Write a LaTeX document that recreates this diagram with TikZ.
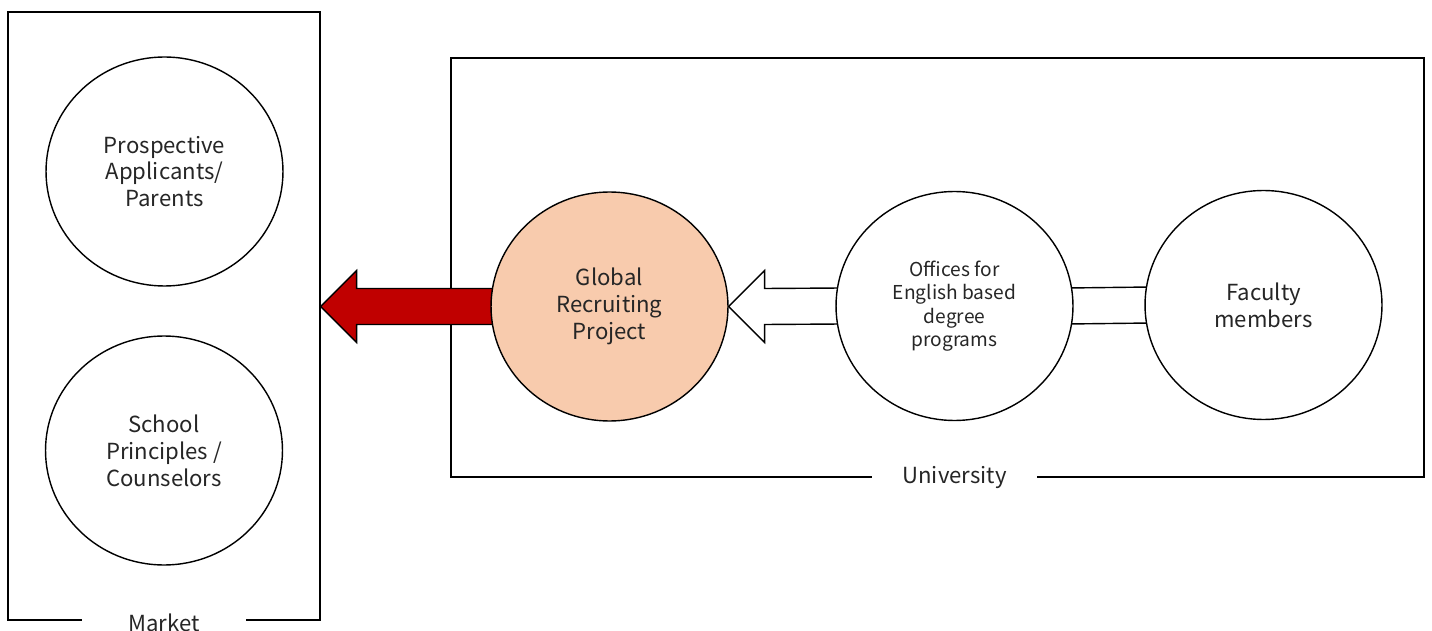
\documentclass[tikz,border=0pt]{standalone}
\usepackage{fontspec}
\setmainfont{Noto Sans CJK JP}
\usetikzlibrary{shapes.geometric,calc,backgrounds}
\definecolor{rojoFlecha}{HTML}{C00000}
\definecolor{salmonGRP}{HTML}{F8CBAD}
\definecolor{grisT}{HTML}{262626}

\begin{document}
\begin{tikzpicture}[x=0.02cm,y=-0.02cm,every node/.style={align=center},
    marco/.style={draw=black,line width=0.8pt,inner sep=0pt},
    etiqueta/.style={fill=white,minimum width=3.3cm,inner sep=1pt,text=grisT,font=\fontsize{12.6}{15}\selectfont},
    circulo/.style={ellipse,draw=black,line width=0.8pt,fill=white,inner sep=0pt,
      minimum width=4.74cm,minimum height=4.58cm,text=grisT,font=\fontsize{12.6}{15.3}\selectfont},
    flecha/.style={draw=black,line width=0.8pt,line join=miter}]
    \useasboundingbox (0,0) rectangle (1432,631);
    % marcos
    \begin{scope}[on background layer]
      \node[marco,minimum width=6.24cm,minimum height=12.16cm] (mercado) at (164,316) {};
      \node[marco,minimum width=19.46cm,minimum height=8.38cm] (universidad) at (937.5,267.5) {};
    \end{scope}
    % circulos
    \node[circulo] (prosp) at (164.5,171.5) {Prospective\\Applicants/\\Parents};
    \node[circulo] (school) at (164,450.5) {School\\Principles /\\Counselors};
    \node[circulo,fill=salmonGRP] (grp) at (609.5,306.5) {Global\\Recruiting\\Project};
    \node[circulo,font=\fontsize{10.9}{13.3}\selectfont] (offices) at (954.5,306) {Offices for\\English based\\degree\\programs};
    \node[circulo] (faculty) at (1263.5,305) {Faculty\\members};
    % etiquetas
    \node[etiqueta] (market) at ([yshift=-1pt]mercado.south) {Market};
    \node[etiqueta] (univ) at (offices |- universidad.south) {University};
    % flechas
    \begin{scope}[on background layer]
      \coordinate (puntaR) at (mercado.east |- grp.west);
      \draw[flecha,fill=rojoFlecha] ($(grp.west)+(6,-18)$) -- ($(puntaR)+(36,-18)$) -- ($(puntaR)+(36,-36)$)
        -- (puntaR) -- ($(puntaR)+(36,36)$) -- ($(puntaR)+(36,18)$) -- ($(grp.west)+(6,18)$) -- cycle;
      \coordinate (puntaB) at (grp.east);
      \draw[flecha,fill=white] ($(offices.west)+(6,-18)$) -- ($(puntaB)+(36,-18)$) -- ($(puntaB)+(36,-36)$)
        -- (puntaB) -- ($(puntaB)+(36,36)$) -- ($(puntaB)+(36,18)$) -- ($(offices.west)+(6,18)$) -- cycle;
      \draw[flecha] ($(offices.east)+(-6,-18)$) -- ($(faculty.west)+(6,-18)$);
      \draw[flecha] ($(offices.east)+(-6,18)$) -- ($(faculty.west)+(6,18)$);
    \end{scope}
\end{tikzpicture}
\end{document}
